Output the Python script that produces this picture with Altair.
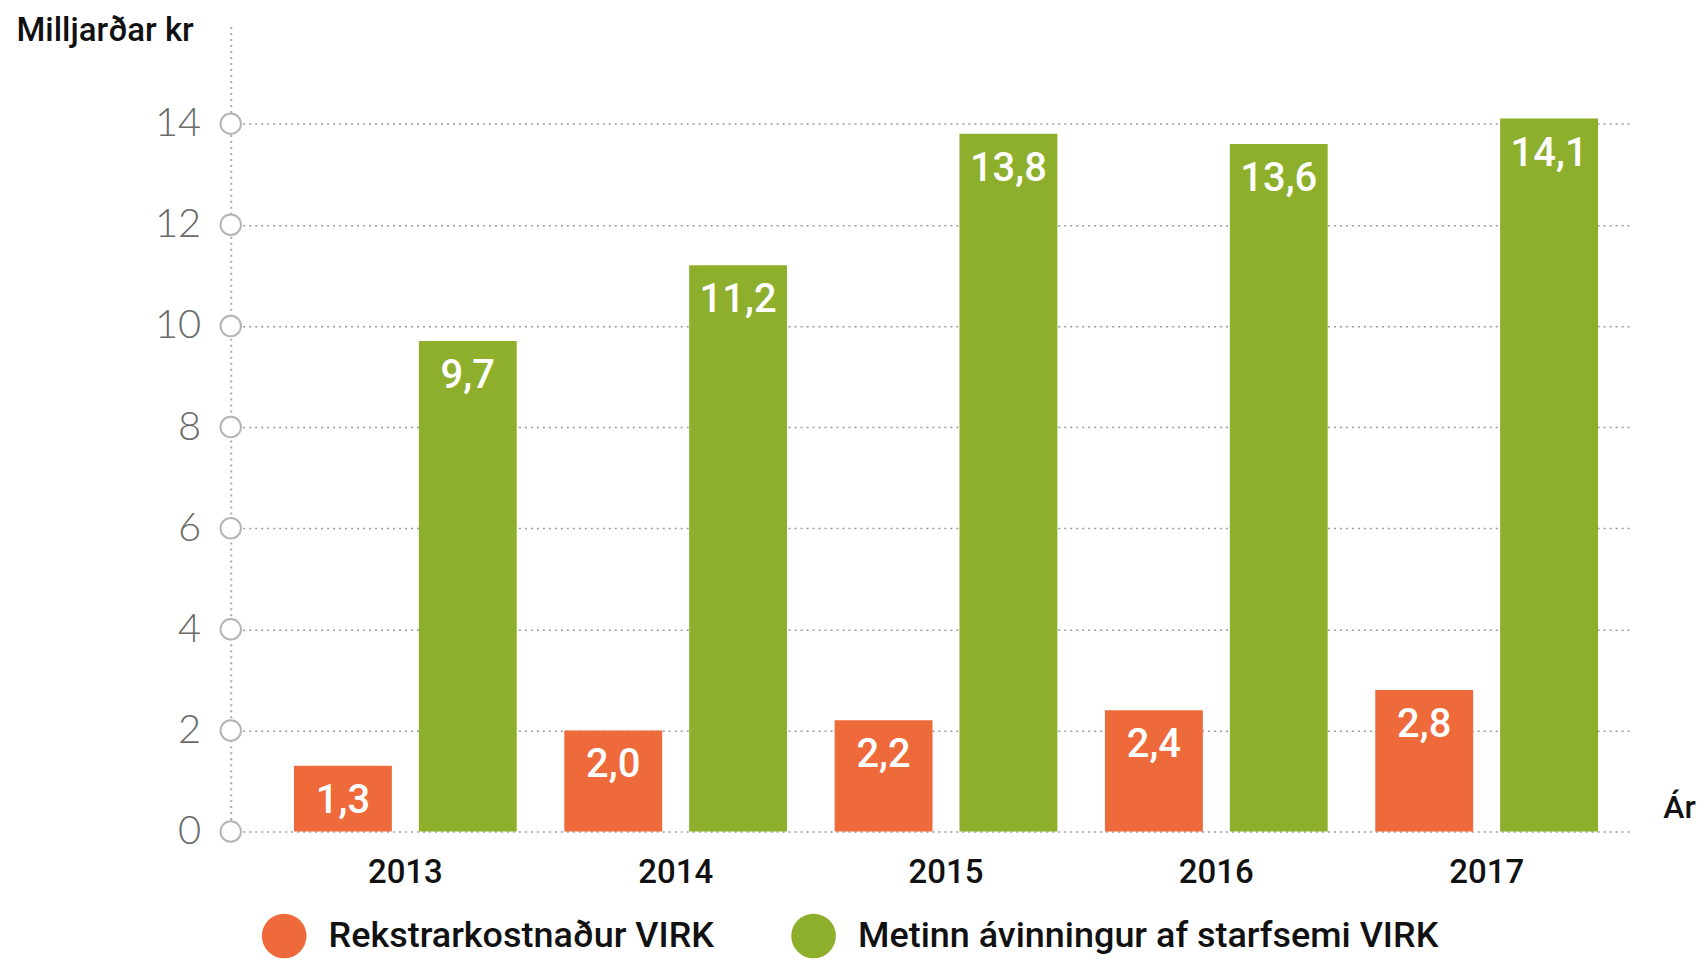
import altair as alt
import pandas as pd

years = ["2013", "2014", "2015", "2016", "2017"]
series_names = ["Rekstrarkostnaður VIRK", "Metinn ávinningur af starfsemi VIRK"]
cost = [1.3, 2.0, 2.2, 2.4, 2.8]
benefit = [9.7, 11.2, 13.8, 13.6, 14.1]
y_ticks = [0, 2, 4, 6, 8, 10, 12, 14]
colors = ["#EE6A3A", "#8DAF2C"]

rows = []
for i, yr in enumerate(years):
    rows.append({"year": yr, "series": series_names[0], "value": cost[i]})
    rows.append({"year": yr, "series": series_names[1], "value": benefit[i]})
df = pd.DataFrame(rows)
ticks_df = pd.DataFrame({"value": y_ticks})

NARROW = "Roboto"

y_scale = alt.Scale(domain=[0, 16], nice=False)

x_enc = alt.X(
    "year:N",
    sort=years,
    scale=alt.Scale(paddingInner=0.176, paddingOuter=0.18, align=0.65),
    axis=alt.Axis(
        title="Ár",
        titleX=1450,
        titleY=-24,
        titleAlign="center",
        titleBaseline="middle",
        titleFont=NARROW,
        titleFontSize=32,
        titleFontWeight=500,
        titleColor="#111",
        labelFont=NARROW,
        labelFontSize=33,
        labelFontWeight=500,
        labelColor="#111",
        labelPadding=25,
        labelAngle=0,
        domain=False,
        ticks=False,
        grid=False,
    ),
)
xoff_enc = alt.XOffset("series:N", sort=series_names, scale=alt.Scale(paddingInner=0.216))

y_enc = alt.Y(
    "value:Q",
    scale=y_scale,
    axis=alt.Axis(
        title="Milljarðar kr",
        titleAngle=0,
        titleX=-215,
        titleY=8,
        titleAlign="left",
        titleBaseline="middle",
        titleFont=NARROW,
        titleFontSize=33,
        titleFontWeight=500,
        titleColor="#111",
        values=y_ticks,
        labelFont="Lato",
        labelFontSize=40,
        labelFontWeight=300,
        labelColor="#6a6a6a",
        labelPadding=30,
        ticks=False,
        tickSize=0,
        domain=True,
        domainColor="#aaaaaa",
        domainDash=[2, 4],
        domainWidth=2,
        grid=True,
        gridColor="#9a9a9a",
        gridDash=[2, 4],
        gridWidth=1.5,
    ),
)

base = alt.Chart(df).transform_calculate(
    label="replace(format(datum.value, '.1f'), '.', ',')"
).encode(x=x_enc, xOffset=xoff_enc, y=y_enc)

bars = base.mark_bar().encode(
    color=alt.Color(
        "series:N",
        sort=series_names,
        scale=alt.Scale(domain=series_names, range=colors),
        legend=alt.Legend(
            title=None,
            orient="none",
            direction="horizontal",
            legendX=31,
            legendY=892,
            padding=0,
            symbolType="circle",
            symbolSize=2000,
            symbolStrokeWidth=0,
            symbolOpacity=1,
            labelFont=NARROW,
            labelFontSize=36,
            labelFontWeight=500,
            labelColor="#111",
            labelOffset=22,
            columnPadding=76,
            labelLimit=800,
        ),
    )
)

labels = base.mark_text(
    baseline="middle",
    align="center",
    dy=35,
    color="white",
    font=NARROW,
    fontSize=40,
    fontWeight=500,
).encode(text="label:N")

circles = alt.Chart(ticks_df).mark_circle(
    fill="white", stroke="#b5b5b5", strokeWidth=2, size=420, opacity=1, fillOpacity=1
).encode(x=alt.value(0), y=alt.Y("value:Q", scale=y_scale))

chart = (
    alt.layer(bars, labels, circles)
    .properties(
        width=1403,
        height=810,
        autosize=alt.AutoSizeParams(type="none"),
        padding={"left": 223, "top": 14, "right": 66, "bottom": 128},
        background="white",
    )
    .configure_view(stroke=None)
)

chart.save("out.html", embed_options={"renderer": "svg", "actions": False})
